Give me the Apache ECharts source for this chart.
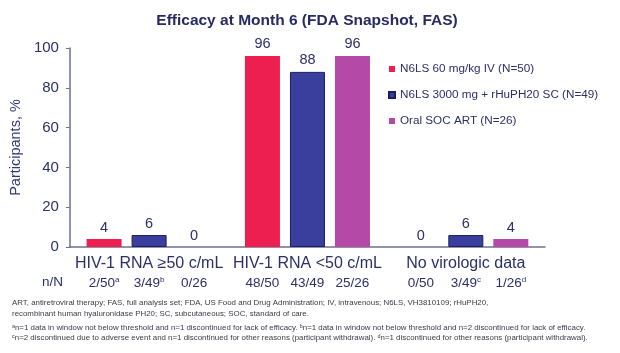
<!DOCTYPE html>
<html>
<head>
<meta charset="utf-8">
<script src="https://cdn.jsdelivr.net/npm/echarts@6/dist/echarts.min.js"></script>
<style>
  html, body { margin: 0; padding: 0; background: #fff; }
  #chart { width: 620px; height: 353px; }
</style>
</head>
<body>
<div id="chart"></div>
<script>
const categories = ['HIV-1 RNA ≥50 c/mL', 'HIV-1 RNA <50 c/mL', 'No virologic data'];
const seriesNames = ['N6LS 60 mg/kg IV (N=50)', 'N6LS 3000 mg + rHuPH20 SC (N=49)', 'Oral SOC ART (N=26)'];
const ivValues = [4, 96, 0];
const scValues = [6, 88, 6];
const socValues = [0, 96, 4];
const ivCounts = ['2/50', '48/50', '0/50'];
const scCounts = ['3/49', '43/49', '3/49'];
const socCounts = ['0/26', '25/26', '1/26'];
const ivNotes = ['a', '', ''];
const scNotes = ['b', '', 'c'];
const socNotes = ['', '', 'd'];
const footnotes = [
  'ART, antiretroviral therapy; FAS, full analysis set; FDA, US Food and Drug Administration; IV, intravenous; N6LS, VH3810109; rHuPH20,',
  'recombinant human hyaluronidase PH20; SC, subcutaneous; SOC, standard of care.',
  'ᵃn=1 data in window not below threshold and n=1 discontinued for lack of efficacy. ᵇn=1 data in window not below threshold and n=2 discontinued for lack of efficacy.',
  'ᶜn=2 discontinued due to adverse event and n=1 discontinued for other reasons (participant withdrawal). ᵈn=1 discontinued for other reasons (participant withdrawal).'
];

const colors = ['#ec1f50', '#3a3f9d', '#b549a8'];
const navy = '#2a3068';
const font = 'Liberation Sans';

const chart = echarts.init(document.getElementById('chart'));

const groups = [
  { values: ivValues, counts: ivCounts, notes: ivNotes },
  { values: scValues, counts: scCounts, notes: scNotes },
  { values: socValues, counts: socCounts, notes: socNotes }
];

const series = [];
groups.forEach((g, i) => {
  // main bar, carries the n/N label under the axis
  series.push({
    name: seriesNames[i],
    type: 'bar',
    stack: 's' + i,
    barWidth: 35,
    barGap: '28.6%',
    itemStyle: {
      color: colors[i],
      borderColor: i === 1 ? '#1c1f5a' : colors[i],
      borderWidth: i === 1 ? 1 : 0
    },
    label: {
      show: true,
      position: 'bottom',
      distance: 29,
      fontFamily: font,
      formatter: (p) => '{n|' + g.counts[p.dataIndex] + '}' +
        (g.notes[p.dataIndex] ? '{s|' + g.notes[p.dataIndex] + '}' : ''),
      rich: {
        n: { fontSize: 13.5, color: navy, fontFamily: font },
        s: { fontSize: 8, color: navy, fontFamily: font, verticalAlign: 'top', padding: [0, 0, 7, 0] }
      }
    },
    emphasis: { disabled: true },
    data: g.values
  });
  // zero-height cap that carries the value label
  series.push({
    name: seriesNames[i] + ' value',
    type: 'bar',
    stack: 's' + i,
    barWidth: 35,
    barGap: '28.6%',
    itemStyle: { color: 'transparent' },
    label: {
      show: true,
      position: 'top',
      distance: 4,
      fontFamily: font,
      fontSize: 14.5,
      color: navy,
      formatter: (p) => String(g.values[p.dataIndex])
    },
    emphasis: { disabled: true },
    data: g.values.map(() => 0)
  });
});

const option = {
  animation: false,
  color: colors,
  title: {
    text: 'Efficacy at Month 6 (FDA Snapshot, FAS)',
    left: 302,
    textAlign: 'center',
    top: 8,
    textStyle: { fontFamily: font, fontSize: 15.5, fontWeight: 'bold', color: '#262c63' }
  },
  legend: {
    data: seriesNames,
    orient: 'vertical',
    left: 383,
    top: 58,
    icon: 'rect',
    itemWidth: 6,
    itemHeight: 6,
    itemGap: 14,
    textStyle: { fontFamily: font, fontSize: 11.7, color: navy }
  },
  grid: { left: 62, right: 75, top: 48, bottom: 106 },
  xAxis: {
    type: 'category',
    data: categories,
    axisLine: { lineStyle: { color: '#6b7094', width: 1.5 } },
    axisTick: { show: false },
    axisLabel: { interval: 0, fontFamily: font, fontSize: 16, color: navy, margin: 9 }
  },
  yAxis: {
    type: 'value',
    min: 0,
    max: 100,
    interval: 20,
    name: 'Participants, %',
    nameLocation: 'middle',
    nameGap: 42,
    nameTextStyle: { fontFamily: font, fontSize: 14.5, color: '#2e3a78' },
    splitLine: { show: false },
    axisLine: { show: true, lineStyle: { color: '#6b7094', width: 1.5 } },
    axisTick: { show: true, inside: false, length: 4, lineStyle: { color: '#6b7094' } },
    axisLabel: { fontFamily: font, fontSize: 15, color: navy, margin: 11 }
  },
  graphic: [
    {
      type: 'text', left: 42, top: 275,
      style: { text: 'n/N', fontFamily: font, fontSize: 13.5, fill: navy }
    }
  ].concat(footnotes.map((t, i) => ({
    type: 'text',
    left: 12,
    top: [298.5, 309.5, 323.5, 333.5][i],
    style: { text: t, fontFamily: font, fontSize: 7.9, fill: '#3a3a4a' }
  }))),
  series: series
};

chart.setOption(option);
</script>
</body>
</html>
